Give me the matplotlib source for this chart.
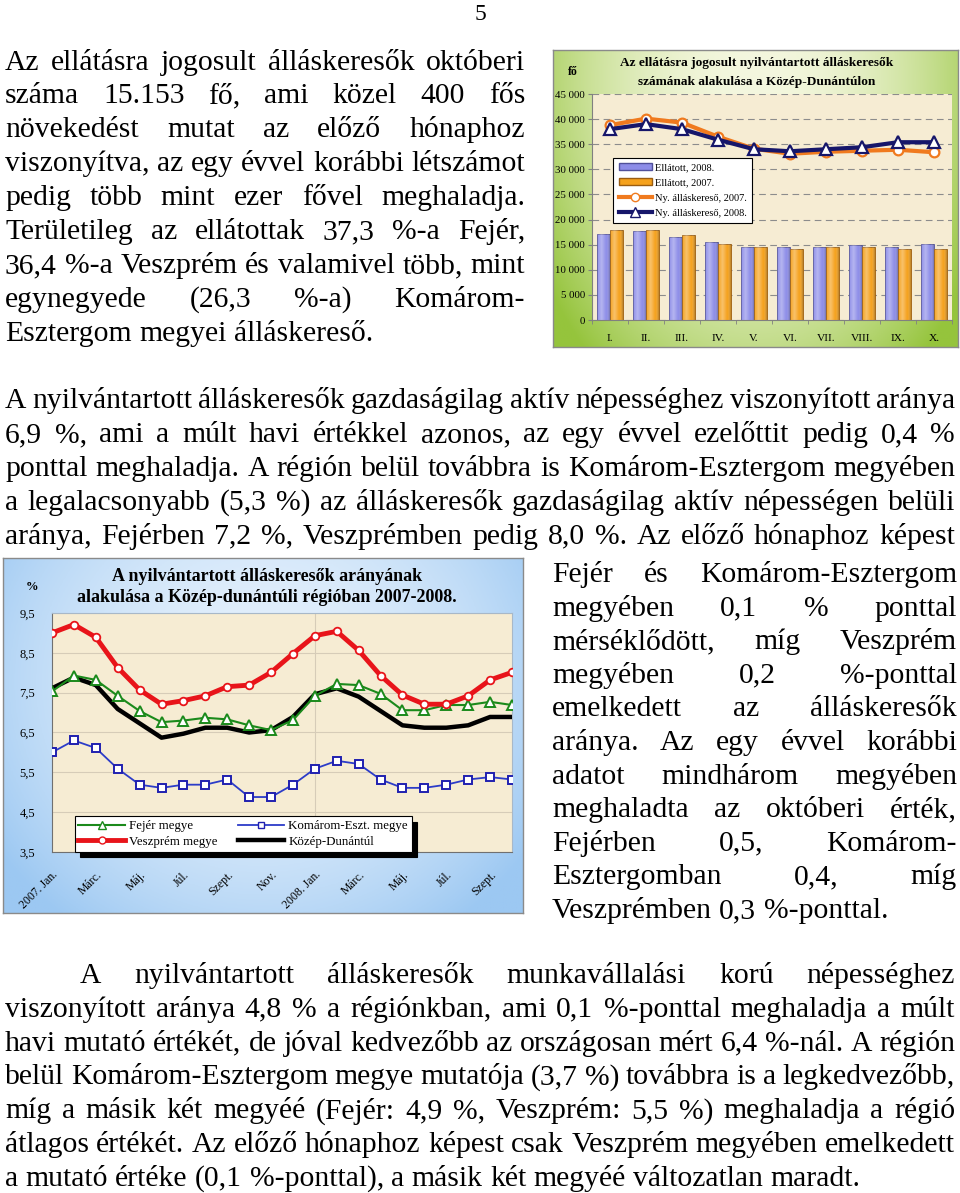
import matplotlib
matplotlib.use('Agg')
import matplotlib.pyplot as plt
import numpy as np
from matplotlib.lines import Line2D
from matplotlib.patches import Patch

W, H = 960, 1193
SERIF = 'Liberation Serif'
FS = 21.3  # body text size in pt

# ---------------- data: chart 1 ----------------
months1 = ['I.', 'II.', 'III.', 'IV.', 'V.', 'VI.', 'VII.', 'VIII.', 'IX.', 'X.']
ellatott_2008 = [17100, 17700, 16600, 15500, 14600, 14600, 14600, 14900, 14600, 15200]
ellatott_2007 = [18000, 18000, 16900, 15200, 14600, 14100, 14600, 14600, 14100, 14100]
nyilv_2007 = [38800, 40100, 39300, 36500, 34100, 33100, 33500, 33700, 33900, 33400]
nyilv_2008 = [38000, 39000, 38000, 35900, 34000, 33600, 34000, 34400, 35400, 35400]
labels1 = ['Ellátott, 2008.', 'Ellátott, 2007.', 'Ny. álláskereső, 2007.', 'Ny. álláskereső, 2008.']

# ---------------- data: chart 2 ----------------
tick_labels2 = ['2007. Jan.', 'Márc.', 'Máj.', 'Júl.', 'Szept.', 'Nov.',
                '2008. Jan.', 'Márc.', 'Máj.', 'Júl.', 'Szept.']
fejer = [7.53, 7.93, 7.82, 7.42, 7.04, 6.76, 6.80, 6.87, 6.83, 6.68, 6.56,
         6.81, 7.42, 7.72, 7.69, 7.47, 7.06, 7.06, 7.19, 7.19, 7.27, 7.19]
veszprem = [9.00, 9.21, 8.89, 8.13, 7.57, 7.21, 7.30, 7.42, 7.65, 7.69, 8.01,
            8.48, 8.93, 9.04, 8.56, 7.93, 7.44, 7.21, 7.21, 7.42, 7.82, 8.01]
komarom = [6.00, 6.30, 6.11, 5.59, 5.19, 5.11, 5.19, 5.19, 5.32, 4.88, 4.88,
           5.19, 5.59, 5.79, 5.71, 5.32, 5.11, 5.11, 5.19, 5.32, 5.38, 5.32]
kozep = [7.61, 7.88, 7.69, 7.09, 6.73, 6.37, 6.47, 6.62, 6.62, 6.50, 6.56,
         6.89, 7.46, 7.61, 7.40, 7.04, 6.68, 6.62, 6.62, 6.68, 6.89, 6.89]
labels2 = ['Fejér megye', 'Veszprém megye', 'Komárom-Eszt. megye', 'Közép-Dunántúl']

# ---------------- text ----------------
para1 = ["Az ellátásra jogosult álláskeresők októberi",
         "száma 15.153 fő, ami közel 400 fős",
         "növekedést mutat az előző hónaphoz",
         "viszonyítva, az egy évvel korábbi létszámot",
         "pedig több mint ezer fővel meghaladja.",
         "Területileg az ellátottak 37,3 %-a Fejér,",
         "36,4 %-a Veszprém és valamivel több, mint",
         "egynegyede (26,3 %-a) Komárom-",
         "Esztergom megyei álláskereső."]
para2 = ["A nyilvántartott álláskeresők gazdaságilag aktív népességhez viszonyított aránya",
         "6,9 %, ami a múlt havi értékkel azonos, az egy évvel ezelőttit pedig 0,4 %",
         "ponttal meghaladja. A régión belül továbbra is Komárom-Esztergom megyében",
         "a legalacsonyabb (5,3 %) az álláskeresők gazdaságilag aktív népességen belüli",
         "aránya, Fejérben 7,2 %, Veszprémben pedig 8,0 %. Az előző hónaphoz képest"]
para3 = ["Fejér és Komárom-Esztergom",
         "megyében 0,1 % ponttal",
         "mérséklődött, míg Veszprém",
         "megyében 0,2 %-ponttal",
         "emelkedett az álláskeresők",
         "aránya. Az egy évvel korábbi",
         "adatot mindhárom megyében",
         "meghaladta az októberi érték,",
         "Fejérben 0,5, Komárom-",
         "Esztergomban 0,4, míg",
         "Veszprémben 0,3 %-ponttal."]
para4 = ["A nyilvántartott álláskeresők munkavállalási korú népességhez",
         "viszonyított aránya 4,8 % a régiónkban, ami 0,1 %-ponttal meghaladja a múlt",
         "havi mutató értékét, de jóval kedvezőbb az országosan mért 6,4 %-nál. A régión",
         "belül Komárom-Esztergom megye mutatója (3,7 %) továbbra is a legkedvezőbb,",
         "míg a másik két megyéé (Fejér: 4,9 %, Veszprém: 5,5 %) meghaladja a régió",
         "átlagos értékét. Az előző hónaphoz képest csak Veszprém megyében emelkedett",
         "a mutató értéke (0,1 %-ponttal), a másik két megyéé változatlan maradt."]

fig = plt.figure(figsize=(9.6, 11.93), dpi=100)
fig.patch.set_facecolor('white')
renderer = fig.canvas.get_renderer()


def rect(x0, y0, x1, y1):
    return [x0 / W, 1 - y1 / H, (x1 - x0) / W, (y1 - y0) / H]


def gradient_bg(x0, y0, x1, y1, c_center, c_edge, cx=0.5, cy=0.35, sx=0.6, sy=0.9):
    ax = fig.add_axes(rect(x0, y0, x1, y1), zorder=0)
    nx, ny = 200, 150
    X, Y = np.meshgrid(np.linspace(0, 1, nx), np.linspace(0, 1, ny))
    d = np.clip(np.sqrt(((X - cx) / sx) ** 2 + ((Y - cy) / sy) ** 2), 0, 1) ** 2
    c0 = np.array(matplotlib.colors.to_rgb(c_center))
    c1 = np.array(matplotlib.colors.to_rgb(c_edge))
    img = c0[None, None, :] * (1 - d[..., None]) + c1[None, None, :] * d[..., None]
    ax.imshow(img, extent=[0, 1, 0, 1], aspect='auto', origin='upper')
    ax.set_xticks([]); ax.set_yticks([])
    for s in ax.spines.values():
        s.set_color('#8a8a8a'); s.set_linewidth(1.0)
    return ax


# ---------------- body text ----------------
tmp = fig.text(0, 0, 'a a', fontsize=FS, family=SERIF)
tmp2 = fig.text(0, 0, 'aa', fontsize=FS, family=SERIF)
SPACE = tmp.get_window_extent(renderer).width - tmp2.get_window_extent(renderer).width
tmp.remove(); tmp2.remove()


def put_line(s, x0, x1, ybase, justify=True):
    words = s.split(' ')
    texts = [fig.text(0, 0, w, fontsize=FS, family=SERIF, va='baseline', ha='left')
             for w in words]
    widths = [t.get_window_extent(renderer).width for t in texts]
    if justify and len(words) > 1:
        gap = (x1 - x0 - sum(widths)) / (len(words) - 1)
    else:
        gap = SPACE
    x = x0
    for t, w in zip(texts, widths):
        t.set_position((x / W, 1 - ybase / H))
        x += w + gap


def paragraph(lines, x0, x1, y0, dy, indent=0, last_justified=False):
    for i, s in enumerate(lines):
        last = (i == len(lines) - 1) and not last_justified
        put_line(s, x0 + (indent if i == 0 else 0), x1, y0 + i * dy, justify=not last)


paragraph(para1, 5, 525, 69.5, 33.9)
paragraph(para2, 5, 955, 408, 33.9, last_justified=True)
paragraph(para3, 552, 957, 582, 33.6)
paragraph(para4, 5, 955, 983, 33.8, indent=75)
fig.text(480 / W, 1 - 20 / H, '5', fontsize=FS * 0.8, family=SERIF, ha='center', va='baseline')

# ---------------- chart 1 ----------------
gradient_bg(553, 50, 958, 347, '#f4f7df', '#95c43c', cx=0.5, cy=0.1, sx=0.62, sy=1.25)
ax1 = fig.add_axes(rect(592, 94, 952, 320), zorder=2)
ax1.set_facecolor('#f6ecd3')
x1 = np.arange(len(months1))
bw = 0.36
b1 = ax1.bar(x1 - bw / 2, ellatott_2008, width=bw, color='#8d8de8', edgecolor='#50509a', linewidth=0.6, zorder=2)
b2 = ax1.bar(x1 + bw / 2, ellatott_2007, width=bw, color='#f5a11c', edgecolor='#9a5c10', linewidth=0.6, zorder=2)
# cylinder-like shading
grad = np.linspace(0, 1, 50)
shade = (np.abs(grad - 0.35) * 1.6).reshape(1, -1)
cm_shade = matplotlib.colors.LinearSegmentedColormap.from_list(
    'sh', [(1, 1, 1, 0.35), (1, 1, 1, 0.0), (0, 0, 0, 0.45)])
for bars in (b1, b2):
    for p in bars:
        x0, y0 = p.get_x(), p.get_y()
        im = ax1.imshow(shade, extent=[x0, x0 + p.get_width(), y0, y0 + p.get_height()],
                        cmap=cm_shade, vmin=0, vmax=1.2, aspect='auto', zorder=2.5)
        im.set_clip_path(p)
ax1.plot(x1, nyilv_2007, color='#f07a1e', lw=3, marker='o', mfc='white', mec='#f07a1e',
         ms=7, mew=1.6, zorder=4)
ax1.plot(x1, nyilv_2008, color='#16166a', lw=3, marker='^', mfc='white', mec='#16166a',
         ms=8.5, mew=1.6, zorder=5)
ax1.set_xlim(-0.5, len(months1) - 0.5)
ax1.set_ylim(0, 45000)
yt = np.arange(0, 45001, 5000)
ax1.set_yticks(yt)
ax1.set_yticklabels([f'{v:,}'.replace(',', ' ') for v in yt], family=SERIF, fontsize=7.8)
ax1.set_xticks(x1)
ax1.set_xticklabels(months1, family=SERIF, fontsize=8.2)
ax1.set_xticks(np.arange(-0.5, len(months1), 1), minor=True)
ax1.tick_params(axis='x', which='major', length=0, pad=10)
ax1.tick_params(axis='x', which='minor', length=3, color='#808080')
ax1.tick_params(axis='y', length=3, color='#808080', pad=2)
ax1.yaxis.grid(True, linestyle=(0, (6, 4)), color='#8c8c8c', lw=0.8)
ax1.set_axisbelow(True)
for s in ['top', 'right']:
    ax1.spines[s].set_visible(False)
for s in ['left', 'bottom']:
    ax1.spines[s].set_color('#808080')
h1 = [Patch(facecolor='#8d8de8', edgecolor='#50509a'),
      Patch(facecolor='#f5a11c', edgecolor='#9a5c10'),
      Line2D([], [], color='#f07a1e', lw=3, marker='o', mfc='white', mec='#f07a1e', ms=6),
      Line2D([], [], color='#16166a', lw=3, marker='^', mfc='white', mec='#16166a', ms=7)]
lg1 = ax1.legend(h1, labels1, loc='upper left', bbox_to_anchor=(0.045, 0.74),
                 prop={'family': SERIF, 'size': 7.5}, fancybox=False, framealpha=1,
                 edgecolor='black', handlelength=3.2, borderpad=0.5, labelspacing=0.55,
                 handletextpad=0.3)
lg1.get_frame().set_linewidth(0.8)
lg1.set_zorder(6)
fig.text(757 / W, 1 - 63 / H, 'Az ellátásra jogosult nyilvántartott álláskeresők',
         family=SERIF, weight='bold', fontsize=9.6, ha='center', va='center', zorder=3)
fig.text(757 / W, 1 - 82 / H, 'számának alakulása a Közép-Dunántúlon',
         family=SERIF, weight='bold', fontsize=9.6, ha='center', va='center', zorder=3)
fig.text(573 / W, 1 - 72 / H, 'fő', family=SERIF, weight='bold', fontsize=8.5,
         ha='center', va='center', zorder=3)

# ---------------- chart 2 ----------------
gradient_bg(3, 558, 523, 913, '#e4f0fc', '#9cc8f2', cx=0.5, cy=0.35, sx=0.62, sy=0.85)
ax2 = fig.add_axes(rect(52, 613, 512, 852), zorder=2)
ax2.set_facecolor('#f6ecd3')
x2 = np.arange(len(fejer))
ax2.plot(x2, kozep, color='black', lw=3.2, zorder=3)
ax2.plot(x2, fejer, color='#1b8a1b', lw=1.5, marker='^', mfc='white', mec='#1b8a1b',
         ms=7, mew=1.4, zorder=4)
ax2.plot(x2, komarom, color='#2c3cc8', lw=1.3, marker='s', mfc='white', mec='#2020b0',
         ms=5.5, mew=1.4, zorder=4)
ax2.plot(x2, veszprem, color='#e8141a', lw=3.5, marker='o', mfc='white', mec='#e8141a',
         ms=5.5, mew=1.3, zorder=5)
ax2.set_xlim(0, len(fejer) - 1)
ax2.set_ylim(3.5, 9.5)
yt2 = np.arange(3.5, 9.6, 1.0)
ax2.set_yticks(yt2)
ax2.set_yticklabels([f'{v:.1f}'.replace('.', ',') for v in yt2], family=SERIF, fontsize=9)
ax2.set_xticks(np.arange(0, len(fejer), 2))
ax2.set_xticklabels(tick_labels2, family=SERIF, fontsize=8.5, rotation=45,
                    ha='right', va='top', rotation_mode='anchor')
ax2.tick_params(axis='x', length=0, pad=12)
ax2.tick_params(axis='y', length=0, pad=12)
ax2.yaxis.grid(True, color='#d6ccb8', lw=0.8)
ax2.axvline(tick_labels2.index('2008. Jan.') * 2, color='#d6ccb8', lw=0.8, zorder=1)
ax2.set_axisbelow(True)
for s in ax2.spines.values():
    s.set_color('#a8b8c8'); s.set_linewidth(0.8)
ax2.spines['left'].set_color('#707070')
ax2.spines['bottom'].set_color('#707070')
h2 = [Line2D([], [], color='#1b8a1b', lw=1.5, marker='^', mfc='white', mec='#1b8a1b', ms=6),
      Line2D([], [], color='#e8141a', lw=3.5, marker='o', mfc='white', mec='#e8141a', ms=5),
      Line2D([], [], color='#2c3cc8', lw=1.3, marker='s', mfc='white', mec='#2020b0', ms=5),
      Line2D([], [], color='black', lw=3.2)]
leg_kw = dict(loc='lower left', bbox_to_anchor=(0.035, -0.025), ncol=2,
              prop={'family': SERIF, 'size': 9.3}, fancybox=False, framealpha=1,
              edgecolor='black', handlelength=3.6, borderpad=0.3, labelspacing=0.25,
              handletextpad=0.3, columnspacing=1.6)
try:
    lg2 = ax2.legend(h2, labels2, shadow={'color': 'black', 'alpha': 1, 'ox': 4, 'oy': -4}, **leg_kw)
except Exception:
    lg2 = ax2.legend(h2, labels2, shadow=True, **leg_kw)
lg2.get_frame().set_linewidth(0.8)
lg2.set_zorder(6)
fig.text(267 / W, 1 - 576 / H, 'A nyilvántartott álláskeresők arányának',
         family=SERIF, weight='bold', fontsize=13, ha='center', va='center', zorder=3)
fig.text(267 / W, 1 - 597 / H, 'alakulása a Közép-dunántúli régióban 2007-2008.',
         family=SERIF, weight='bold', fontsize=13, ha='center', va='center', zorder=3)
fig.text(32 / W, 1 - 587 / H, '%', family=SERIF, weight='bold', fontsize=9,
         ha='center', va='center', zorder=3)

fig.savefig('out.png', dpi=100, facecolor='white')
